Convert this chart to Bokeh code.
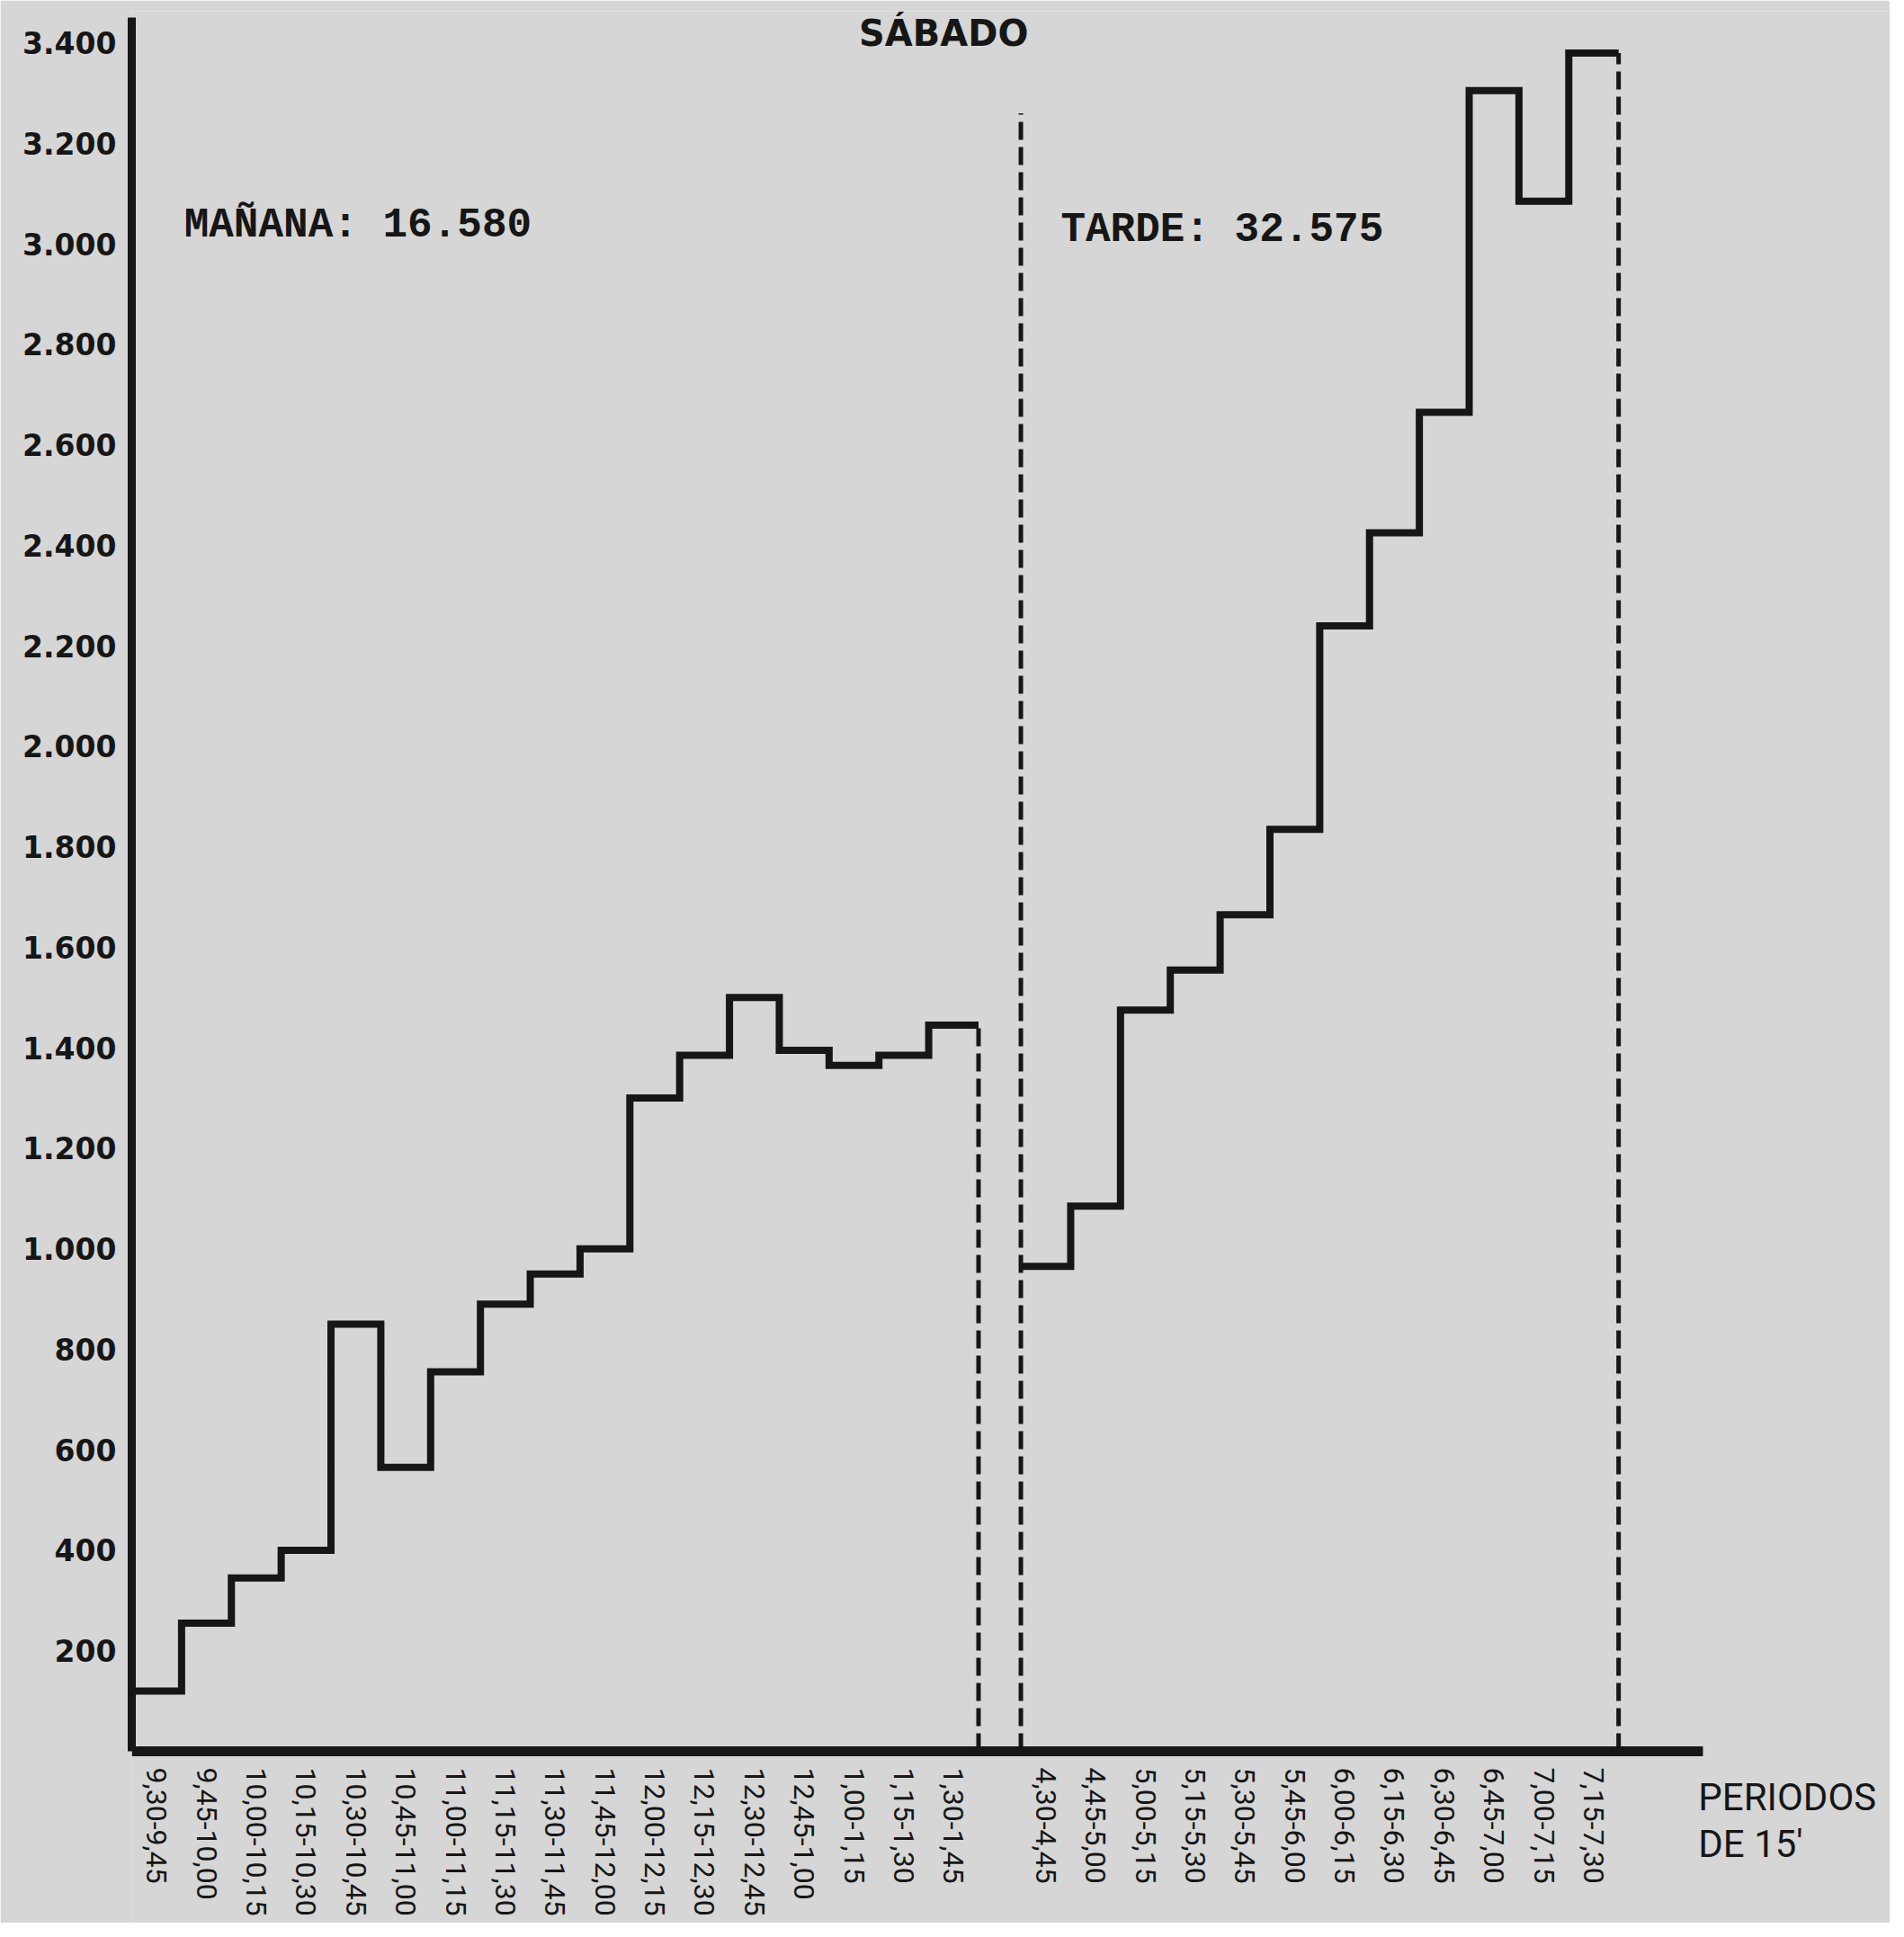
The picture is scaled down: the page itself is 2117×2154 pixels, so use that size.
import math
from bokeh.plotting import figure
from bokeh.models import Range1d, FixedTicker, Label
from bokeh.core.properties import value
from bokeh.embed import file_html
from bokeh.resources import INLINE

# ---------------- data ----------------
periodos_manana = ["9,30-9,45", "9,45-10,00", "10,00-10,15", "10,15-10,30", "10,30-10,45",
                   "10,45-11,00", "11,00-11,15", "11,15-11,30", "11,30-11,45", "11,45-12,00",
                   "12,00-12,15", "12,15-12,30", "12,30-12,45", "12,45-1,00", "1,00-1,15",
                   "1,15-1,30", "1,30-1,45"]
valores_manana = [120, 255, 345, 400, 850, 565, 755, 890, 950, 1000,
                  1300, 1385, 1500, 1395, 1365, 1385, 1445]

periodos_tarde = ["4,30-4,45", "4,45-5,00", "5,00-5,15", "5,15-5,30", "5,30-5,45", "5,45-6,00",
                  "6,00-6,15", "6,15-6,30", "6,30-6,45", "6,45-7,00", "7,00-7,15", "7,15-7,30"]
valores_tarde = [965, 1085, 1475, 1555, 1665, 1835, 2240, 2425, 2665, 3305, 3085, 3380]

y_ticks = [200, 400, 600, 800, 1000, 1200, 1400, 1600, 1800, 2000,
           2200, 2400, 2600, 2800, 3000, 3200, 3400]
y_tick_labels = ["200", "400", "600", "800", "1.000", "1.200", "1.400", "1.600", "1.800", "2.000",
                 "2.200", "2.400", "2.600", "2.800", "3.000", "3.200", "3.400"]

texto_manana = "MAÑANA: 16.580"
texto_tarde = "TARDE: 32.575"
titulo = "SÁBADO"
eje_x_titulo = ["PERIODOS", "DE 15'"]

# ---------------- layout constants ----------------
INICIO_TARDE = 17.85         # x where the afternoon block starts (gap after morning)
TOPE_SEPARADOR = 3260        # top of the dashed separator at the afternoon start
INK = "#161616"
PAPER = "#d6d6d6"

m_edges = [float(i) for i in range(len(valores_manana) + 1)]
t_edges = [INICIO_TARDE + i for i in range(len(valores_tarde) + 1)]

x_ticks = [e + 0.5 for e in m_edges[:-1]] + [e + 0.5 for e in t_edges[:-1]]
x_labels = periodos_manana + periodos_tarde

p = figure(width=2101, height=2138,
           x_range=Range1d(0, 35.30), y_range=Range1d(-341.9, 3463.1),
           output_backend="svg", toolbar_location=None,
           min_border_left=146, min_border_right=0,
           min_border_top=12, min_border_bottom=0)

p.background_fill_color = PAPER
p.border_fill_color = PAPER
p.outline_line_color = None
p.grid.visible = False

# step lines
p.step(x=m_edges, y=valores_manana + [valores_manana[-1]], mode="after",
       line_width=8, line_color=INK, line_join="miter")
p.step(x=t_edges, y=valores_tarde + [valores_tarde[-1]], mode="after",
       line_width=8, line_color=INK, line_join="miter")

# dashed separators
p.segment(x0=[m_edges[-1], t_edges[0], t_edges[-1]], y0=[0, 0, 0],
          x1=[m_edges[-1], t_edges[0], t_edges[-1]],
          y1=[valores_manana[-1], TOPE_SEPARADOR, valores_tarde[-1]],
          line_width=5, line_color=INK, line_dash="20 8")

# x axis (placed at y = 0 inside the frame)
xa = p.xaxis[0]
xa.fixed_location = 0
xa.ticker = FixedTicker(ticks=x_ticks)
xa.major_label_overrides = dict(zip(x_ticks, x_labels))
xa.major_label_orientation = -math.pi / 2
xa.major_tick_line_color = None
xa.minor_tick_line_color = None
xa.major_tick_out = 0
xa.major_tick_in = 0
xa.major_label_standoff = 18
xa.axis_line_width = 11
xa.axis_line_color = INK
xa.bounds = (0, 31.55)
xa.major_label_text_font = "Roboto"
xa.major_label_text_font_size = "32px"
xa.major_label_text_color = INK

# y axis
ya = p.yaxis[0]
ya.ticker = FixedTicker(ticks=y_ticks)
ya.major_label_overrides = dict(zip(y_ticks, y_tick_labels))
ya.major_tick_line_color = None
ya.minor_tick_line_color = None
ya.major_tick_out = 0
ya.major_tick_in = 0
ya.major_label_standoff = 17
ya.axis_line_width = 9
ya.axis_line_color = INK
ya.bounds = (0, 3450)
ya.major_label_text_font = "DejaVu Sans"
ya.major_label_text_font_style = "bold"
ya.major_label_text_font_size = "33px"
ya.major_label_text_color = INK

# annotations
p.add_layout(Label(x=1.05, y=3037, text=texto_manana, text_font="Liberation Mono",
                   text_font_style="bold", text_font_size="46px", text_color=INK,
                   text_baseline="alphabetic"))
p.add_layout(Label(x=18.65, y=3028, text=texto_tarde, text_font="Liberation Mono",
                   text_font_style="bold", text_font_size="46px", text_color=INK,
                   text_baseline="alphabetic"))
p.add_layout(Label(x=16.3, y=3420, text=titulo, text_font="DejaVu Sans",
                   text_font_style="bold", text_font_size="40px", text_color=INK,
                   text_align="center", text_baseline="alphabetic"))

# axis caption at the right end of the x axis
p.text(x=[31.45, 31.45], y=[-91, -184], text=eje_x_titulo,
       text_font=value("Roboto"), text_font_size="42px", text_color=INK,
       text_baseline="alphabetic", text_align="left")

open("out.html", "w").write(file_html(p, INLINE))
